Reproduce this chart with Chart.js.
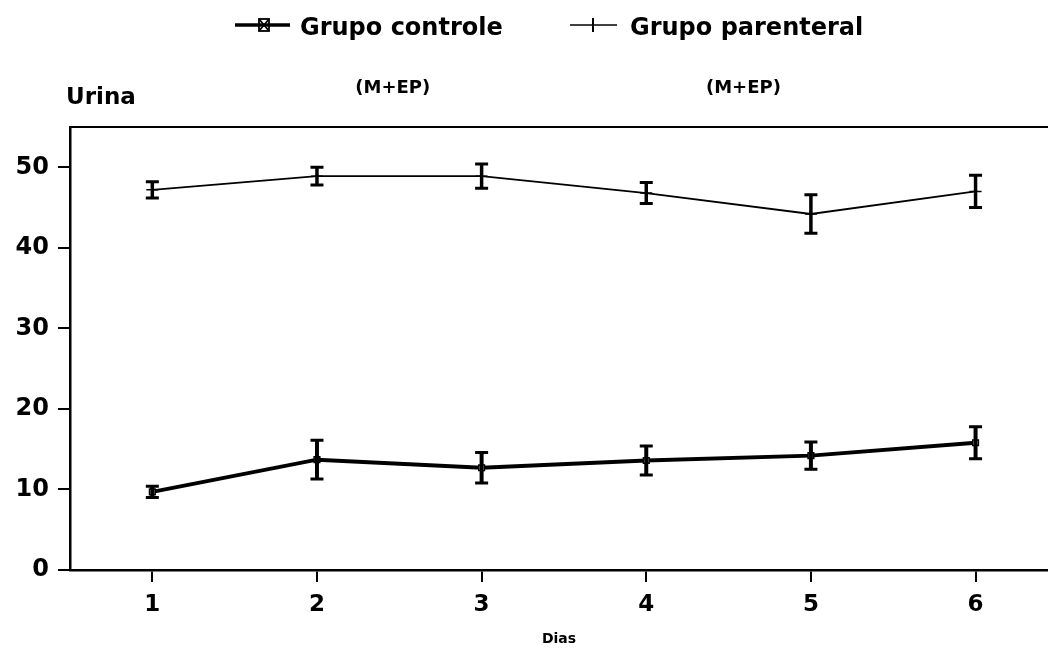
<!DOCTYPE html>
<html>
<head>
<meta charset="utf-8">
<script src="https://cdn.jsdelivr.net/npm/chart.js@4/dist/chart.umd.min.js"></script>
<style>
  html, body { margin: 0; padding: 0; background: #fff; }
  #wrap { width: 1048px; height: 648px; position: relative; }
</style>
</head>
<body>
<div id="wrap"><canvas id="c" width="1048" height="648"></canvas></div>
<script>
// ---- data ----
const days = [1, 2, 3, 4, 5, 6];
const controle = [9.7, 13.7, 12.7, 13.6, 14.2, 15.8];
const controleErr = [0.7, 2.4, 1.9, 1.8, 1.7, 2.0];
const parenteral = [47.2, 48.9, 48.9, 46.8, 44.2, 47.0];
const parenteralErr = [1.0, 1.1, 1.5, 1.3, 2.4, 2.0];
const yTicks = [0, 10, 20, 30, 40, 50];
const xTicks = [1, 2, 3, 4, 5, 6];
const seriesNames = ['Grupo controle', 'Grupo parenteral'];
const annotationText = ['(M+EP)', '(M+EP)'];
const annotationX = [2.46, 4.59];
const yTitle = 'Urina';
const xTitle = 'Dias';

const FONT = '"DejaVu Sans", sans-serif';

const errorBars = {
  id: 'errorBars',
  afterDatasetsDraw(chart) {
    const ctx = chart.ctx;
    const xs = chart.scales.x, ys = chart.scales.y;
    chart.data.datasets.forEach((ds) => {
      const errs = ds.errors;
      ctx.save();
      ctx.strokeStyle = '#000';
      ctx.lineCap = 'butt';
      ds.data.forEach((p, i) => {
        const x = xs.getPixelForValue(p.x);
        const yT = ys.getPixelForValue(p.y + errs[i]);
        const yB = ys.getPixelForValue(p.y - errs[i]);
        ctx.lineWidth = ds.errWidth;
        ctx.beginPath();
        ctx.moveTo(x, yT); ctx.lineTo(x, yB);
        ctx.stroke();
        ctx.beginPath();
        ctx.lineWidth = 3;
        ctx.moveTo(x - 6.5, yT); ctx.lineTo(x + 6.5, yT);
        ctx.moveTo(x - 6.5, yB); ctx.lineTo(x + 6.5, yB);
        ctx.stroke();
      });
      ctx.restore();
    });
  }
};

const decorations = {
  id: 'decorations',
  afterDraw(chart) {
    const ctx = chart.ctx;
    const a = chart.chartArea;
    const xs = chart.scales.x;
    ctx.save();
    // top border
    ctx.strokeStyle = '#000';
    ctx.lineWidth = 2;
    ctx.beginPath();
    ctx.moveTo(a.left, a.top); ctx.lineTo(a.right, a.top);
    ctx.stroke();

    ctx.fillStyle = '#000';
    // y title
    ctx.font = 'bold 23px ' + FONT;
    ctx.textAlign = 'left';
    ctx.textBaseline = 'alphabetic';
    ctx.fillText(yTitle, 66, 104);

    // annotations
    ctx.font = 'bold 18px ' + FONT;
    ctx.textAlign = 'center';
    ctx.textBaseline = 'middle';
    annotationText.forEach((t, i) => {
      ctx.fillText(t, xs.getPixelForValue(annotationX[i]), 88);
    });

    // legend
    const ly = 25;
    ctx.lineWidth = 3.5;
    ctx.beginPath(); ctx.moveTo(235, ly); ctx.lineTo(290, ly); ctx.stroke();
    ctx.lineWidth = 1.8;
    ctx.strokeRect(259, ly - 6, 10, 12);
    ctx.beginPath(); ctx.moveTo(259, ly - 6); ctx.lineTo(269, ly + 6);
    ctx.moveTo(269, ly - 6); ctx.lineTo(259, ly + 6); ctx.stroke();
    ctx.lineWidth = 1.5;
    ctx.beginPath(); ctx.moveTo(570, ly); ctx.lineTo(617, ly); ctx.stroke();
    ctx.lineWidth = 2;
    ctx.beginPath(); ctx.moveTo(593, ly - 7); ctx.lineTo(593, ly + 7); ctx.stroke();

    ctx.font = 'bold 24px ' + FONT;
    ctx.textAlign = 'left';
    ctx.textBaseline = 'alphabetic';
    ctx.fillText(seriesNames[0], 300, 35);
    ctx.fillText(seriesNames[1], 630, 35);
    ctx.restore();
  }
};

new Chart(document.getElementById('c'), {
  type: 'line',
  data: {
    datasets: [
      {
        label: seriesNames[0],
        data: days.map((d, i) => ({ x: d, y: controle[i] })),
        errors: controleErr,
        errWidth: 4,
        borderColor: '#000',
        backgroundColor: '#000',
        borderWidth: 4,
        tension: 0,
        pointStyle: 'rect',
        pointRadius: 4,
        pointBorderWidth: 1.5,
        pointBackgroundColor: '#fff',
        pointBorderColor: '#000'
      },
      {
        label: seriesNames[1],
        data: days.map((d, i) => ({ x: d, y: parenteral[i] })),
        errors: parenteralErr,
        errWidth: 3.5,
        borderColor: '#000',
        backgroundColor: '#000',
        borderWidth: 1.8,
        tension: 0,
        pointStyle: 'cross',
        pointRadius: 6,
        pointBorderWidth: 1.5,
        pointBorderColor: '#000'
      }
    ]
  },
  options: {
    responsive: false,
    animation: false,
    layout: { autoPadding: false, padding: { top: 127, left: 0, right: 0, bottom: 0 } },
    plugins: {
      legend: { display: false },
      title: { display: false },
      tooltip: { enabled: false }
    },
    scales: {
      x: {
        type: 'linear',
        min: 0.5,
        max: 6.44,
        afterBuildTicks: (s) => { s.ticks = xTicks.map(v => ({ value: v })); },
        afterFit: (s) => { s.height = 78; s.paddingLeft = 0; s.paddingRight = 0; },
        grid: { drawOnChartArea: false, tickLength: 12, color: '#000', lineWidth: 2 },
        border: { display: true, color: '#000', width: 2.5 },
        ticks: {
          color: '#000',
          padding: 9,
          font: { family: FONT, size: 23, weight: 'bold' },
          maxRotation: 0,
          autoSkip: false
        },
        title: {
          display: true,
          text: xTitle,
          color: '#000',
          padding: { top: 0, bottom: 0 },
          font: { family: FONT, size: 14, weight: 'bold' }
        }
      },
      y: {
        type: 'linear',
        min: 0,
        max: 55,
        afterBuildTicks: (s) => { s.ticks = yTicks.map(v => ({ value: v })); },
        afterFit: (s) => { s.width = 70; s.paddingTop = 0; s.paddingBottom = 0; },
        grid: { drawOnChartArea: false, tickLength: 12, color: '#000', lineWidth: 2 },
        border: { display: true, color: '#000', width: 2.5 },
        ticks: {
          color: '#000',
          padding: 9,
          font: { family: FONT, size: 24, weight: 'bold' }
        }
      }
    }
  },
  plugins: [errorBars, decorations]
});
</script>
</body>
</html>
